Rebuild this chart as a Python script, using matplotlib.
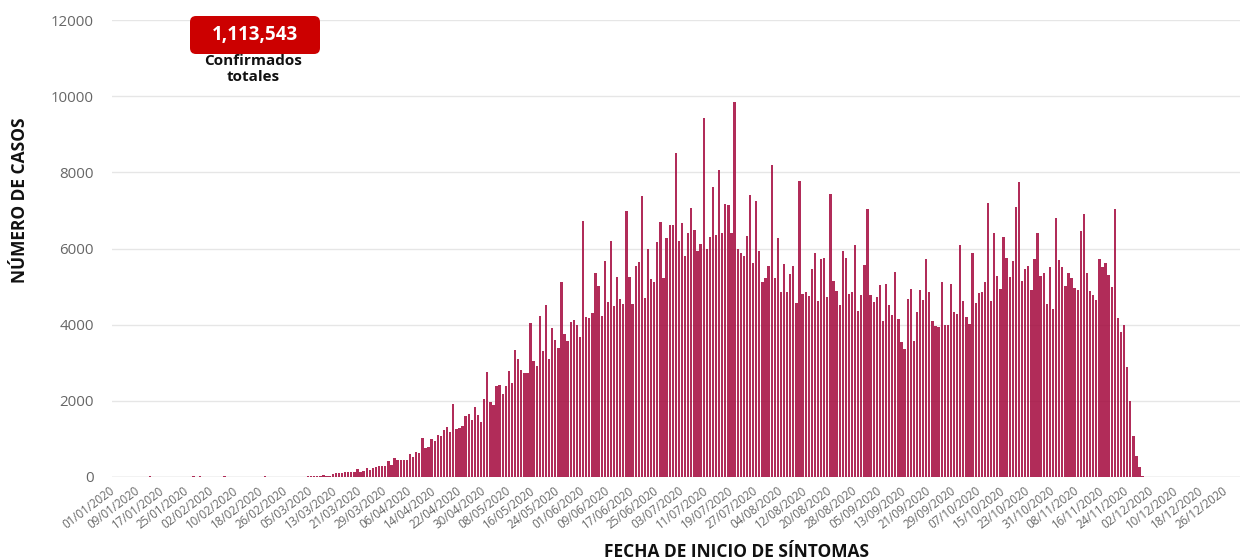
import matplotlib
matplotlib.use("Agg")
import matplotlib.pyplot as plt
import numpy as np
import pandas as pd
from matplotlib.patches import FancyBboxPatch
from matplotlib.transforms import IdentityTransform

# daily confirmed cases by symptom onset date, starting 01/01/2020
fecha_inicio = "2020-01-01"
casos = [
    # 01/01 - 21/02
    0, 0, 0, 0, 0, 0, 0, 0, 0, 0, 0, 0, 15, 0, 0, 0, 0, 0, 0, 0, 0, 0, 0, 0, 0, 0,
    15, 0, 15, 0, 0, 0, 0, 0, 0, 0, 15, 0, 0, 0, 0, 0, 0, 0, 0, 0, 0, 0, 0, 15, 0, 0,
    # 22/02 - 07/03
    5, 3, 6, 4, 8, 6, 7, 10, 12, 9, 11, 15, 14, 18, 20,
    # 08/03 ->
    25, 60, 35, 35, 90, 100, 100, 100, 140, 140, 140, 140, 200, 130, 165,
    245, 185, 230, 270, 290, 280, 280, 410, 315, 500, 455, 455, 455, 455, 595,
    525, 655, 640, 1015, 770, 795, 990, 935, 1100, 1070, 1240, 1320, 1170, 1915, 1260,
    1295, 1350, 1610, 1660, 1495, 1845, 1630, 1445, 2040, 2765,
    1980, 1890, 2390, 2415, 2170, 2400, 2790, 2475, 3340, 3090, 2800, 2720, 2730, 4035, 3055,
    2920, 4235, 3300, 4515, 3100, 3900, 3595, 3380, 5110, 3745, 3580, 4080, 4120, 3990, 3685,
    6720, 4210, 4165, 4315, 5345, 5020, 4225, 5670,
    4600, 6195, 4490, 5260, 4665, 4530, 6980, 5260, 4530, 5540, 5635, 7370, 4690, 5975, 5190,
    5130, 6180, 6700, 5215, 6265, 6605, 6605, 8520, 6210, 6660, 5800, 6395, 7070, 6485, 5940,
    6110, 9430, 6000, 6300, 7620, 6350, 8050, 6415, 7165, 7140, 6415, 9840, 6000, 5890, 5810,
    6335, 7400, 5625, 7260,
    5940, 5110, 5215, 5550, 8190, 5215, 6280, 4865, 5600, 4865, 5340, 5550, 4575, 7760, 4805,
    4850, 4750, 5450, 5890, 4610, 5720, 5740, 4735, 7440, 5145, 4875, 4515, 5925, 5760, 4805,
    4865, 6090, 4360, 4785, 5565, 7025, 4770, 4595, 4715, 5040, 4085, 5065, 4515, 4245, 5390,
    4155, 3535, 3360, 4680, 4935, 3560, 4340, 4910, 4645, 5720,
    4865, 4085, 3965, 3940, 5110, 3990, 3990, 5060, 4320, 4280, 6090, 4630, 4200, 4015, 5870,
    4575, 4820, 4850, 5130, 7200, 4630, 6395, 5275, 4935, 6310, 5740, 5260, 5670, 7080, 7745,
    5145, 5450, 5550, 4910, 5720, 6395, 5275, 5345, 4530, 5505, 4410, 6790, 5695, 5505, 5015,
    5345, 5230, 4960, 4900, 6455, 6895,
    5345, 4875, 4785, 4640, 5720, 5505, 5620, 5295, 4990, 7045, 4180, 3800, 3990, 2895, 2005,
    1070, 560, 270, 25,
]
y_ticks = [0, 2000, 4000, 6000, 8000, 10000, 12000]
fechas_ticks = pd.date_range(fecha_inicio, "2020-12-26", freq="8D")
etiquetas_x = [f.strftime("%d/%m/%Y") for f in fechas_ticks]
total_confirmados = "1,113,543"

plt.rcParams["font.family"] = ["Open Sans", "DejaVu Sans"]

W, H = 1243, 560
fig = plt.figure(figsize=(W / 100, H / 100), dpi=100)
ax = fig.add_axes([111.7 / W, 83 / H, (1240 - 111.7) / W, 457 / H])

dias = np.arange(len(casos))
ax.bar(dias, casos, width=0.75, color="#a60f42", alpha=0.88, zorder=2)

ax.set_xlim(-0.5, 364.5)
ax.set_ylim(0, 12000)
ax.set_yticks(y_ticks)
ax.set_yticklabels([str(v) for v in y_ticks])
ax.grid(axis="y", color="#e6e6e6", linewidth=1, zorder=0)
ax.axhline(0, color="#d6d6d6", linewidth=1, zorder=1)

tick_pos = [(f - pd.Timestamp(fecha_inicio)).days for f in fechas_ticks]
ax.set_xticks(tick_pos)
ax.set_xticklabels(etiquetas_x, rotation=37, ha="right", va="center",
                   rotation_mode="anchor", fontsize=8.3, color="#666666")
for s in ax.spines.values():
    s.set_visible(False)
ax.tick_params(axis="both", length=0)
ax.tick_params(axis="x", pad=9)
ax.tick_params(axis="y", pad=13, labelsize=10.8, labelcolor="#666666")

fig.text(20 / W, 1 - 200 / H, "NÚMERO DE CASOS", rotation=90, ha="center",
         va="center", fontsize=12.5, fontweight="bold", color="#111111")
fig.text(737 / W, 1 - 552 / H, "FECHA DE INICIO DE SÍNTOMAS", ha="center",
         va="center", fontsize=12.5, fontweight="bold", color="#111111")

# red total box
caja = FancyBboxPatch((190, H - 54), 130, 38, boxstyle="round,pad=0,rounding_size=6",
                      transform=IdentityTransform(), facecolor="#cc0000",
                      edgecolor="none", zorder=5)
fig.patches.append(caja)
fig.text(255 / W, 1 - 35 / H, total_confirmados, ha="center", va="center",
         fontsize=13.5, fontweight="bold", color="white", zorder=6)
fig.text(253 / W, 1 - 69 / H, "Confirmados\ntotales", ha="center", va="center",
         fontsize=11, fontweight="bold", color="#111111", linespacing=1.15)

fig.savefig("out.png", dpi=100)
